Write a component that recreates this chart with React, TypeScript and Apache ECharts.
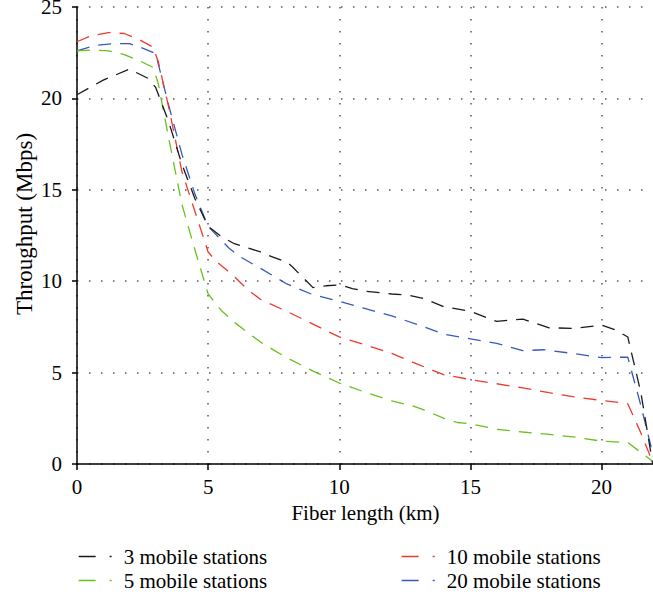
import React, { useEffect, useRef } from 'react';
import * as echarts from 'echarts';

const seriesNames = ['3 mobile stations', '5 mobile stations', '10 mobile stations', '20 mobile stations'];
const seriesColors = ['#1a1a1a', '#66c21a', '#ee3a2c', '#3858bd'];

const xTicks = [0, 5, 10, 15, 20];
const yTicks = [0, 5, 10, 15, 20, 25];
const xTitle = 'Fiber length (km)';
const yTitle = 'Throughput (Mbps)';

const stations3 = [
  [0, 20.2], [1, 21.0], [2, 21.6], [2.7, 21.1], [3, 20.6], [3.5, 18.7], [4, 16.4], [4.5, 14.5],
  [5, 13.0], [5.5, 12.45], [6, 12.05], [7, 11.6], [7.5, 11.3], [8, 11.05], [8.2, 10.8], [9, 9.65],
  [9.5, 9.75], [10, 9.8], [10.5, 9.6], [11, 9.45], [12, 9.3], [12.6, 9.24], [13.2, 9.06], [14, 8.6],
  [15, 8.35], [16, 7.8], [17, 7.93], [18, 7.45], [19, 7.42], [20, 7.6], [20.5, 7.35], [21, 6.95],
  [21.5, 3.9], [21.95, 0],
];
const stations5 = [
  [0, 22.6], [0.6, 22.65], [1.2, 22.6], [1.8, 22.4], [2.4, 22.05], [2.9, 21.7], [3.1, 20.8],
  [3.5, 17.8], [4, 14.2], [4.5, 11.7], [5, 9.3], [5.5, 8.4], [6, 7.75], [6.5, 7.2], [7, 6.67],
  [7.5, 6.23], [8, 5.82], [9, 5.08], [10, 4.43], [11, 3.92], [12, 3.45], [12.8, 3.18], [13.2, 2.97],
  [14, 2.5], [14.5, 2.27], [15, 2.2], [16, 1.9], [17, 1.75], [18, 1.62], [19, 1.47], [20, 1.25],
  [21, 1.17], [21.95, 0.15],
];
const stations10 = [
  [0, 23.1], [0.5, 23.4], [1.2, 23.6], [1.8, 23.55], [2.4, 23.2], [2.9, 22.8], [3.1, 22.0],
  [3.5, 19.5], [4, 16.0], [4.5, 13.8], [5, 11.6], [5.3, 11.1], [6, 10.25], [6.5, 9.55], [7, 9.0],
  [8, 8.35], [9, 7.65], [10, 6.95], [11, 6.52], [12, 6.05], [13, 5.45], [14, 4.88], [15, 4.62],
  [16, 4.39], [17, 4.16], [18, 3.9], [19, 3.66], [20, 3.48], [21, 3.3], [21.5, 1.7], [21.95, 0.1],
];
const stations20 = [
  [0, 22.6], [0.7, 22.9], [1.4, 23.0], [2, 23.0], [2.5, 22.75], [3, 22.45], [3.5, 19.6], [4, 16.95],
  [4.5, 14.75], [5, 13.0], [5.2, 12.7], [5.8, 11.8], [6.2, 11.35], [7, 10.7], [8, 9.85], [9, 9.26],
  [10, 8.9], [11, 8.5], [12, 8.1], [13, 7.62], [14, 7.1], [15, 6.85], [16, 6.6], [17, 6.2],
  [17.8, 6.25], [19, 6.03], [20, 5.82], [21, 5.85], [21.5, 3.2], [22, 0.3],
];

const seriesData = [stations3, stations5, stations10, stations20];

const FONT = "'Liberation Serif', 'Times New Roman', serif";

// legend slots: [left, top] for each series (layout only)
const legendSlots = [[78, 546], [78, 570], [401, 546], [401, 570]];

export default function App() {
  const ref = useRef<HTMLDivElement>(null);
  useEffect(() => {
    if (!ref.current) return;
    const chart = echarts.init(ref.current, undefined, { renderer: 'svg' });
    const gridLine = { show: true, lineStyle: { color: '#555', width: 1.5, type: [1.5, 10.5] } };
    chart.setOption({
      animation: false,
      textStyle: { fontFamily: FONT, color: '#000' },
      grid: { left: 77, top: 7, right: -1, bottom: 134, containLabel: false, outerBoundsMode: 'none' },
      xAxis: {
        type: 'value',
        min: xTicks[0],
        max: 22,
        interval: 5,
        name: xTitle,
        nameLocation: 'middle',
        nameGap: 38,
        nameTextStyle: { fontFamily: FONT, fontSize: 21, color: '#000' },
        axisLine: { show: true, lineStyle: { color: '#000', width: 1.5 } },
        axisTick: { show: true, length: 6, lineStyle: { color: '#000', width: 1.5 } },
        axisLabel: { fontFamily: FONT, fontSize: 21, color: '#000', margin: 12, showMaxLabel: false },
        splitLine: gridLine,
      },
      yAxis: {
        type: 'value',
        min: yTicks[0],
        max: yTicks[yTicks.length - 1],
        interval: 5,
        axisLine: { show: true, lineStyle: { color: '#000', width: 1.5 } },
        axisTick: { show: true, length: 5, lineStyle: { color: '#000', width: 1.5 } },
        axisLabel: { fontFamily: FONT, fontSize: 21, color: '#000', margin: 15 },
        splitLine: gridLine,
      },
      graphic: [
        {
          type: 'text',
          x: 24,
          y: 224,
          rotation: Math.PI / 2,
          style: {
            text: yTitle,
            font: `23px ${FONT}`,
            fill: '#000',
            textAlign: 'center',
            textVerticalAlign: 'middle',
          },
        },
      ],
      legend: seriesNames.map((name, i) => ({
        left: legendSlots[i][0],
        top: legendSlots[i][1],
        orient: 'horizontal',
        itemWidth: 40,
        itemHeight: 14,
        padding: 0,
        data: [name],
        textStyle: { fontFamily: FONT, fontSize: 21, color: '#000' },
        lineStyle: { type: [17, 14, 2, 300], width: 1.3 },
        itemStyle: { opacity: 0 },
      })),
      series: seriesNames.map((name, i) => ({
        name,
        type: 'line',
        data: seriesData[i],
        showSymbol: false,
        symbol: 'none',
        color: seriesColors[i],
        lineStyle: { color: seriesColors[i], width: 1.3, type: [13, 9] },
        z: 10 - i,
      })),
    });
    return () => chart.dispose();
  }, []);
  return (
    <div
      ref={ref}
      style={{ position: 'absolute', left: 0, top: 0, width: 653, height: 598, background: '#fff' }}
    />
  );
}
